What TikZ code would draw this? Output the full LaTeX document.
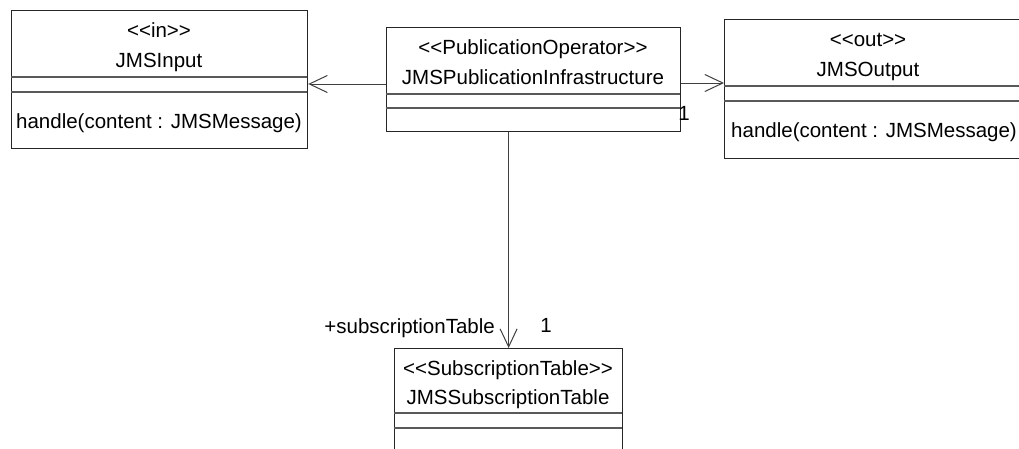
\documentclass[tikz,border=0pt]{standalone}
\usepackage{fontspec}
\setmainfont{Liberation Sans}
\usetikzlibrary{arrows.meta}
\begin{document}
\begin{tikzpicture}[x=1pt,y=-1pt,
  classbox/.style={draw=black!85, line width=1.2pt, fill=white, inner sep=0pt, anchor=north west},
  divider/.style={draw=black!65, line width=1.2pt},
  txt/.style={inner sep=0pt, font=\fontsize{20.5}{24}\selectfont, anchor=base},
  optxt/.style={txt, anchor=base west},
  assoc/.style={draw=black!75, line width=1pt, -{Straight Barb[length=18pt,width=17pt,line width=1pt]}}
]
\useasboundingbox (0,0) rectangle (1019,448);
\fill[white] (0,0) rectangle (1019,448);

% JMSInput
\node[classbox, minimum width=296pt, minimum height=138pt] (in) at (11,10) {};
\draw[divider] (11,77) -- (307,77);
\draw[divider] (11,92) -- (307,92);
\node[txt] (inst) at (159,37) {<{}<in>{}>};
\node[txt] (inname) at (159,67) {JMSInput};
\node[optxt] (inop) at (16,128) {handle(content : JMSMessage)};

% JMSPublicationInfrastructure
\node[classbox, minimum width=294pt, minimum height=104pt] (pub) at (386,27) {};
\draw[divider] (386,94) -- (680,94);
\draw[divider] (386,108) -- (680,108);
\node[txt] (pubst) at (533,54) {<{}<PublicationOperator>{}>};
\node[txt] (pubname) at (533,84) {JMSPublicationInfrastructure};

% JMSOutput
\node[classbox, minimum width=330pt, minimum height=139pt] (out) at (724,19) {};
\draw[divider] (724,86) -- (1054,86);
\draw[divider] (724,101) -- (1054,101);
\node[txt] (outst) at (868,46) {<{}<out>{}>};
\node[txt] (outname) at (868,76) {JMSOutput};
\node[optxt] (outop) at (731,137) {handle(content : JMSMessage)};

% JMSSubscriptionTable
\node[classbox, minimum width=228pt, minimum height=120pt] (sub) at (394,348) {};
\draw[divider] (394,413) -- (622,413);
\draw[divider] (394,428) -- (622,428);
\node[txt] (subst) at (508,375) {<{}<SubscriptionTable>{}>};
\node[txt] (subname) at (508,404) {JMSSubscriptionTable};

% connectors
\draw[assoc] (pub.west |- 0,84) -- (in.east |- 0,84);
\draw[assoc] (pub.east |- 0,83) -- (out.west |- 0,83);
\draw[assoc] (sub.north |- pub.south) -- (sub.north);

% labels
\node[txt, anchor=base east] (role) at (495,333) {+subscriptionTable};
\node[txt] (mult) at (546,332) {1};
\node[txt] (mult2) at (684,120) {1};
\end{tikzpicture}
\end{document}
